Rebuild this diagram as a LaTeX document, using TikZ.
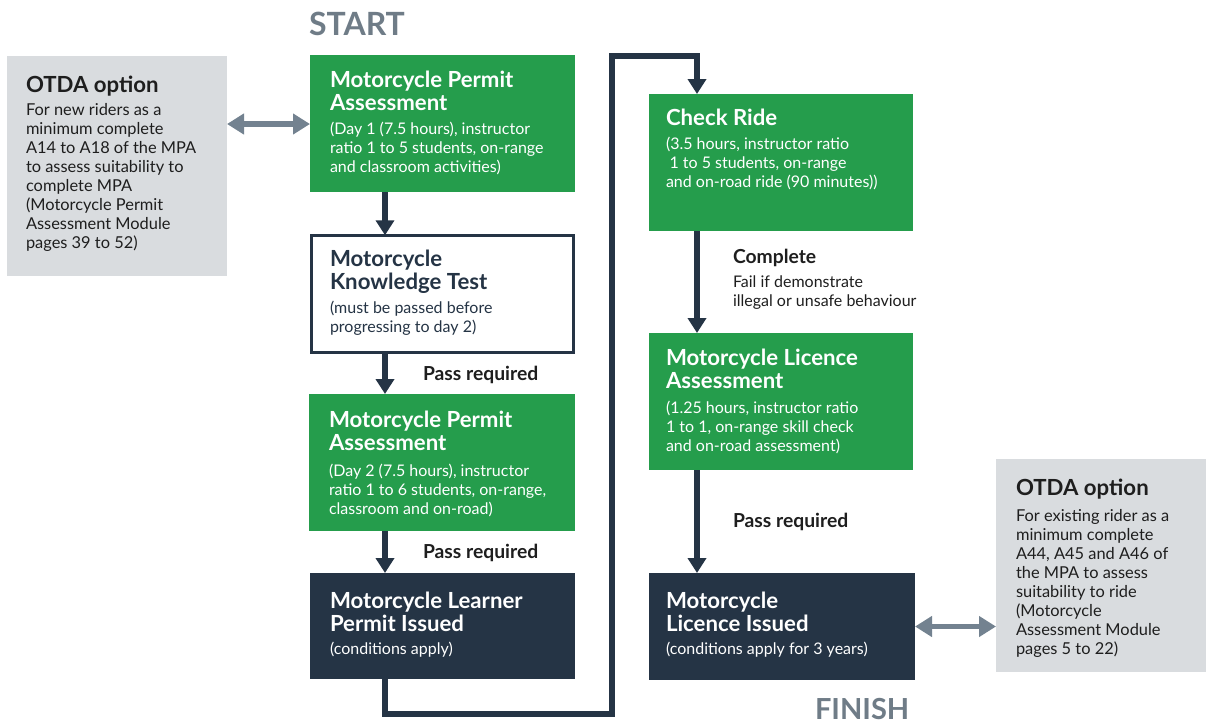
\documentclass[tikz,border=0pt]{standalone}
\usepackage{fontspec}
\setmainfont{Lato}
\usetikzlibrary{arrows.meta}
\definecolor{mygreen}{HTML}{259D4C}
\definecolor{navy}{HTML}{253445}
\definecolor{boxgray}{HTML}{D9DCDF}
\definecolor{arrgray}{HTML}{738290}
\definecolor{labgray}{HTML}{6F7C87}
\definecolor{inkblack}{HTML}{1E1E1E}
\tikzset{
  boxbase/.style={rectangle, inner sep=0pt, outer sep=0pt, anchor=north west},
  greenbox/.style={boxbase, fill=mygreen},
  navybox/.style={boxbase, fill=navy},
  whitebox/.style={boxbase, fill=white, draw=navy, line width=2.5pt},
  graybox/.style={boxbase, fill=boxgray},
  txt/.style={anchor=base west, inner sep=0pt, outer sep=0pt, align=left},
  ttl/.style={txt, font=\fontsize{22.2}{23.5}\selectfont\bfseries},
  bdy/.style={txt, font=\fontsize{16}{19}\selectfont},
  gbdy/.style={txt, font=\fontsize{16.4}{19}\selectfont, text=inkblack},
  lab/.style={txt, font=\fontsize{19.3}{20}\selectfont\bfseries, text=inkblack},
  big/.style={txt, font=\fontsize{32}{34}\selectfont\bfseries, text=labgray},
  flow/.style={draw=navy, line width=5.5pt, line join=miter, -{Triangle[width=18pt,length=15pt]}},
  garrow/.style={draw=arrgray, line width=5.5pt, {Triangle[width=20pt,length=17pt]}-{Triangle[width=20pt,length=17pt]}},
}
\begin{document}
\begin{tikzpicture}[x=1pt,y=-1pt]
\useasboundingbox (0,0) rectangle (1206,724);

% big labels (anchor = baseline of last line)
\node[big] (start) at (309,35) {START};
\node[big, font=\fontsize{29}{32}\selectfont\bfseries] (finish) at (815,719.5) {FINISH};

% left column boxes
\node[greenbox, minimum width=265pt, minimum height=137pt] (b1) at (310,55) {};
\node[ttl, text=white] (b1t) at (330,110.5) {Motorcycle Permit\\Assessment};
\node[bdy, text=white] (b1b) at (330,172) {(Day 1 (7.5 hours), instructor\\ratio 1 to 5 students, on-range\\and classroom activities)};

\node[whitebox, minimum width=262pt, minimum height=117pt] (b2) at (311.25,235.25) {};
\node[ttl, text=navy] (b2t) at (330,289.5) {Motorcycle\\Knowledge Test};
\node[bdy, text=navy] (b2b) at (330,332) {(must be passed before\\progressing to day 2)};

\node[greenbox, minimum width=266pt, minimum height=137pt] (b3) at (309,394) {};
\node[ttl, text=white] (b3t) at (329,450.5) {Motorcycle Permit\\Assessment};
\node[bdy, text=white] (b3b) at (329,514) {(Day 2 (7.5 hours), instructor\\ratio 1 to 6 students, on-range,\\classroom and on-road)};

\node[navybox, minimum width=265pt, minimum height=106pt] (b4) at (310,573) {};
\node[ttl, text=white] (b4t) at (330,631.5) {Motorcycle Learner\\Permit Issued};
\node[bdy, text=white] (b4b) at (330,654) {(conditions apply)};

% right column boxes
\node[greenbox, minimum width=264pt, minimum height=137pt] (c1) at (649,94) {};
\node[ttl, text=white] (c1t) at (666,125) {Check Ride};
\node[bdy, text=white] (c1b) at (666,187) {(3.5 hours, instructor ratio\\\hspace{3.5pt}1 to 5 students, on-range\\and on-road ride (90 minutes))};

\node[greenbox, minimum width=264pt, minimum height=137pt] (c2) at (649,333) {};
\node[ttl, text=white] (c2t) at (666,388.5) {Motorcycle Licence\\Assessment};
\node[bdy, text=white] (c2b) at (666,451) {(1.25 hours, instructor ratio\\1 to 1, on-range skill check\\and on-road assessment)};

\node[navybox, minimum width=266pt, minimum height=107pt] (c3) at (649,573) {};
\node[ttl, text=white] (c3t) at (666,631.5) {Motorcycle\\Licence Issued};
\node[bdy, text=white] (c3b) at (666,654) {(conditions apply for 3 years)};

% gray option boxes
\node[graybox, minimum width=220pt, minimum height=220pt] (g1) at (7,56) {};
\node[ttl, text=inkblack] (g1t) at (26,92) {OTDA option};
\node[gbdy] (g1b) at (26,248) {For new riders as a\\minimum complete\\A14 to A18 of the MPA\\to assess suitability to\\complete MPA\\(Motorcycle Permit\\Assessment Module\\pages 39 to 52)};

\node[graybox, minimum width=210pt, minimum height=213pt] (g2) at (996,459) {};
\node[ttl, text=inkblack] (g2t) at (1016,495) {OTDA option};
\node[gbdy] (g2b) at (1016,654) {For existing rider as a\\minimum complete\\A44, A45 and A46 of\\the MPA to assess\\suitability to ride\\(Motorcycle\\Assessment Module\\pages 5 to 22)};

% connector labels
\node[lab] (p1) at (423,380) {Pass required};
\node[lab] (p2) at (423,558) {Pass required};
\node[lab] (p3) at (733,527) {Pass required};
\node[lab] (cpl) at (733,263) {Complete};
\node[bdy, text=inkblack] (fail) at (733,306) {Fail if demonstrate\\illegal or unsafe behaviour};

% flow arrows
\draw[flow] ([xshift=75pt]b1.south west) -- ([xshift=73.75pt]b2.north west);
\draw[flow] ([xshift=73.75pt]b2.south west) -- ([xshift=76pt]b3.north west);
\draw[flow] ([xshift=76pt]b3.south west) -- ([xshift=75pt]b4.north west);
\draw[flow] ([xshift=48pt]c1.south west) -- ([xshift=48pt]c2.north west);
\draw[flow] ([xshift=48pt]c2.south west) -- ([xshift=48pt]c3.north west);

\coordinate (lb) at (612,714);
\coordinate (lt) at (612,56);
\draw[flow] ([xshift=75pt]b4.south west) |- (lb) -- (lt) -| ([xshift=48pt]c1.north west);

% option arrows
\coordinate (la) at (0,124);
\draw[garrow] (g1.east |- la) -- (b1.west |- la);
\draw[garrow] (c3.east) -- (g2.west |- c3.east);
\end{tikzpicture}
\end{document}
